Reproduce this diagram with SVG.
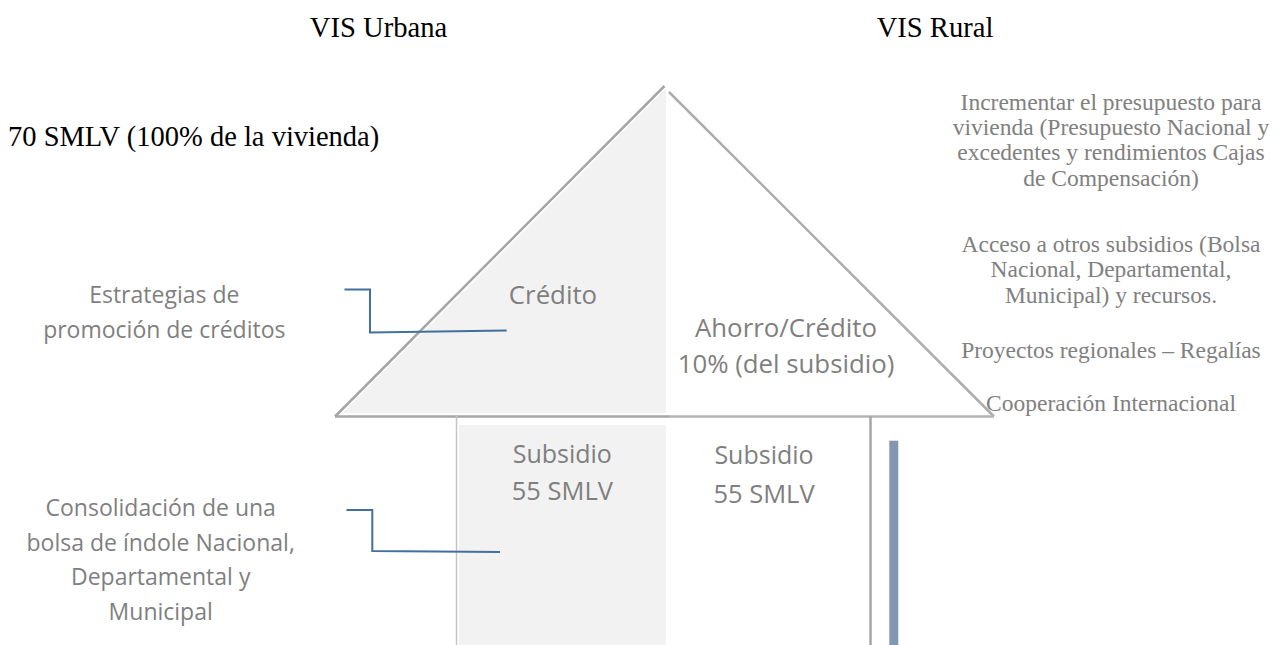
<svg xmlns="http://www.w3.org/2000/svg" width="1279" height="645" viewBox="0 0 1279 645">
<style>
.title{font-family:"Liberation Serif","Times New Roman",serif;font-size:28.6px;fill:#000}
.serifg{font-family:"Liberation Serif","Times New Roman",serif;font-size:23.5px;fill:#808080;text-anchor:middle}
.lbl{font-family:"Open Sans","Noto Sans",sans-serif;font-size:23px;fill:#7f7f7f;text-anchor:middle}
.in{font-family:"Open Sans","Noto Sans",sans-serif;font-size:25.8px;fill:#7f7f7f;text-anchor:middle}
.edge{fill:none;stroke:#a6a6a6;stroke-width:2.5}
.conn{fill:none;stroke:#41719c;stroke-width:2}
</style>
<rect width="1279" height="645" fill="#ffffff"/>

<g id="titles">
<text class="title" x="378.5" y="37.3" text-anchor="middle">VIS Urbana</text>
<text class="title" x="935" y="37.3" text-anchor="middle">VIS Rural</text>
<text class="title" x="8" y="145.5" style="font-size:28.5px">70 SMLV (100% de la vivienda)</text>
</g>

<g id="roof-left">
<polygon points="666,88.5 666,413 342.5,413" fill="#f2f2f2"/>
<line class="edge" x1="664.5" y1="86" x2="335" y2="416.5"/>
<text class="in" x="553" y="304">Crédito</text>
</g>

<g id="roof-right">
<line class="edge" x1="669" y1="92" x2="994" y2="416.5" style="stroke:#adadad"/>
<text class="in" x="786" y="336.5">Ahorro/Crédito</text>
<text class="in" x="786" y="373">10% (del subsidio)</text>
</g>

<g id="base">
<line class="edge" x1="335" y1="416.5" x2="669" y2="416.5"/>
<line class="edge" x1="669" y1="416.5" x2="994" y2="416.5" style="stroke:#b3b3b3"/>
</g>

<g id="wall-left">
<rect x="459" y="425" width="207" height="220" fill="#f2f2f2"/>
<line x1="456.5" y1="416" x2="456.5" y2="645" stroke="#c4c4c4" stroke-width="1.5"/>
<text class="in" x="562.3" y="463.3" style="font-size:25px">Subsidio</text>
<text class="in" x="562.3" y="500" style="font-size:25.5px">55 SMLV</text>
</g>

<g id="wall-right">
<line x1="870.5" y1="416" x2="870.5" y2="645" stroke="#a6a6a6" stroke-width="2.5"/>
<text class="in" x="764" y="464.3" style="font-size:25px">Subsidio</text>
<text class="in" x="764" y="502.5" style="font-size:25.5px">55 SMLV</text>
</g>

<g id="bar">
<rect x="889.3" y="440.7" width="9" height="204.3" fill="#8497b0"/>
</g>

<g id="label-estrategias">
<text class="lbl" x="164.3" y="303.3">Estrategias de</text>
<text class="lbl" x="164.3" y="338.3">promoción de créditos</text>
</g>

<g id="label-consolidacion">
<text class="lbl" x="160.7" y="515.5">Consolidación de una</text>
<text class="lbl" x="160.7" y="550.5">bolsa de índole Nacional,</text>
<text class="lbl" x="160.7" y="585">Departamental y</text>
<text class="lbl" x="160.7" y="619.5">Municipal</text>
</g>

<g id="label-rural">
<text class="serifg" x="1111" y="110">Incrementar el presupuesto para</text>
<text class="serifg" x="1111" y="135">vivienda (Presupuesto Nacional y</text>
<text class="serifg" x="1111" y="160">excedentes y rendimientos Cajas</text>
<text class="serifg" x="1111" y="186">de Compensación)</text>
<text class="serifg" x="1111" y="252">Acceso a otros subsidios (Bolsa</text>
<text class="serifg" x="1111" y="277">Nacional, Departamental,</text>
<text class="serifg" x="1111" y="303">Municipal) y recursos.</text>
<text class="serifg" x="1111" y="358">Proyectos regionales – Regalías</text>
<text class="serifg" x="1111" y="411">Cooperación Internacional</text>
</g>

<g id="connectors">
<polyline class="conn" points="344.5,289.5 370,289.5 370,332.5 506.7,330.5"/>
<polyline class="conn" points="346.5,510 372.3,510 372.3,551 500,552"/>
</g>
</svg>
